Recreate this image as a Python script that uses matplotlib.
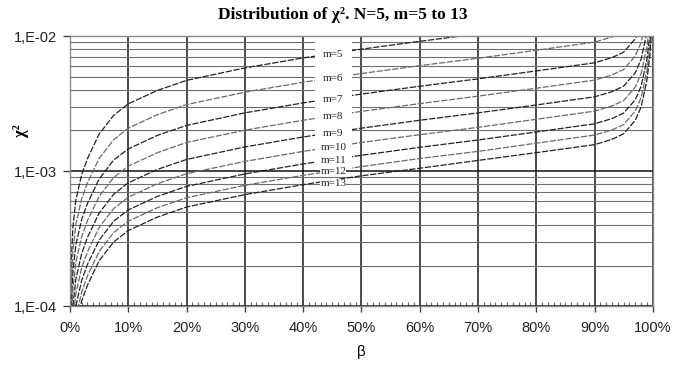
import matplotlib
matplotlib.use("Agg")
import matplotlib.pyplot as plt
import numpy as np
from matplotlib.ticker import MultipleLocator, FuncFormatter, LogLocator, NullFormatter
from matplotlib.patches import Rectangle

nan = np.nan

# beta in percent
beta = [0.05, 0.1, 0.2, 0.5, 1, 2, 3, 5, 7.5, 10, 15, 20, 30, 40, 50, 60, 70, 80,
        90, 93, 95, 97, 98, 99, 99.5, 99.8, 99.95]

m_values = [5, 6, 7, 8, 9, 10, 11, 12, 13]

chi2_m5 = [8.59e-5, 1.36e-4, 2.11e-4, 3.84e-4, 6.08e-4, 9.42e-4, 1.24e-3, 1.88e-3, 2.59e-3,
           3.15e-3, 3.96e-3, 4.70e-3, 5.81e-3, 6.89e-3, 8.00e-3, 9.14e-3, 1.04e-2,
           nan, nan, nan, nan, nan, nan, nan, nan, nan, nan]
chi2_m6 = [nan, 8.99e-5, 1.39e-4, 2.54e-4, 4.02e-4, 6.22e-4, 8.20e-4, 1.24e-3, 1.71e-3,
           2.08e-3, 2.62e-3, 3.11e-3, 3.84e-3, 4.55e-3, 5.28e-3, 6.04e-3, 6.85e-3, 7.85e-3,
           9.02e-3, 9.86e-3, 1.08e-2, nan, nan, nan, nan, nan, nan]
chi2_m7 = [nan, nan, 9.79e-5, 1.78e-4, 2.83e-4, 4.38e-4, 5.77e-4, 8.73e-4, 1.21e-3,
           1.46e-3, 1.84e-3, 2.18e-3, 2.70e-3, 3.20e-3, 3.72e-3, 4.25e-3, 4.82e-3, 5.52e-3,
           6.34e-3, 6.93e-3, 7.60e-3, 9.57e-3, 1.21e-2, nan, nan, nan, nan]
chi2_m8 = [nan, nan, 7.30e-5, 1.33e-4, 2.10e-4, 3.26e-4, 4.30e-4, 6.50e-4, 8.97e-4,
           1.09e-3, 1.37e-3, 1.63e-3, 2.01e-3, 2.38e-3, 2.77e-3, 3.16e-3, 3.59e-3, 4.11e-3,
           4.72e-3, 5.16e-3, 5.66e-3, 7.13e-3, 8.97e-3, 1.42e-2, nan, nan, nan]
chi2_m9 = [nan, nan, nan, 9.98e-5, 1.58e-4, 2.45e-4, 3.23e-4, 4.89e-4, 6.75e-4,
           8.19e-4, 1.03e-3, 1.22e-3, 1.51e-3, 1.79e-3, 2.08e-3, 2.38e-3, 2.70e-3, 3.09e-3,
           3.55e-3, 3.88e-3, 4.26e-3, 5.36e-3, 6.75e-3, 1.07e-2, nan, nan, nan]
chi2_m10 = [nan, nan, nan, 7.82e-5, 1.24e-4, 1.92e-4, 2.53e-4, 3.83e-4, 5.28e-4,
            6.41e-4, 8.07e-4, 9.57e-4, 1.18e-3, 1.40e-3, 1.63e-3, 1.86e-3, 2.11e-3, 2.42e-3,
            2.78e-3, 3.04e-3, 3.33e-3, 4.20e-3, 5.28e-3, 8.38e-3, 1.27e-2, nan, nan]
chi2_m11 = [nan, nan, nan, nan, 9.98e-5, 1.55e-4, 2.04e-4, 3.08e-4, 4.26e-4,
            5.16e-4, 6.50e-4, 7.71e-4, 9.53e-4, 1.13e-3, 1.31e-3, 1.50e-3, 1.70e-3, 1.95e-3,
            2.24e-3, 2.45e-3, 2.69e-3, 3.38e-3, 4.26e-3, 6.75e-3, 1.02e-2, nan, nan]
chi2_m12 = [nan, nan, nan, nan, 8.22e-5, 1.27e-4, 1.68e-4, 2.54e-4, 3.51e-4,
            4.26e-4, 5.36e-4, 6.35e-4, 7.85e-4, 9.31e-4, 1.08e-3, 1.24e-3, 1.40e-3, 1.61e-3,
            1.85e-3, 2.02e-3, 2.21e-3, 2.79e-3, 3.51e-3, 5.56e-3, 8.41e-3, 1.33e-2, nan]
chi2_m13 = [nan, nan, nan, nan, 7.02e-5, 1.09e-4, 1.43e-4, 2.17e-4, 2.99e-4,
            3.63e-4, 4.57e-4, 5.42e-4, 6.70e-4, 7.94e-4, 9.23e-4, 1.05e-3, 1.20e-3, 1.37e-3,
            1.57e-3, 1.72e-3, 1.89e-3, 2.38e-3, 2.99e-3, 4.74e-3, 7.18e-3, 1.14e-2, nan]

curves = [chi2_m5, chi2_m6, chi2_m7, chi2_m8, chi2_m9, chi2_m10, chi2_m11, chi2_m12, chi2_m13]

y_ticks = [1e-4, 1e-3, 1e-2]
y_ticklabels = ["1,E-04", "1,E-03", "1,E-02"]

fig = plt.figure(figsize=(6.73, 3.72), dpi=100)
ax = fig.add_axes([0.104, 0.177, 0.866, 0.726])

for m, vals in zip(m_values, curves):
    col = "#222222" if m % 2 == 1 else "#6a6a6a"
    ax.plot(beta, vals, color=col, lw=0.9, linestyle=(0, (5, 1.3)), zorder=2)

ax.set_yscale("log")
ax.set_xlim(0, 100)
ax.set_ylim(1e-4, 1e-2)

# gridlines
ax.set_axisbelow(True)
ax.xaxis.set_major_locator(MultipleLocator(10))
ax.xaxis.set_minor_locator(MultipleLocator(1))
ax.xaxis.set_major_formatter(FuncFormatter(lambda v, p: f"{v:.0f}%"))
ax.grid(which="major", axis="x", color="#1a1a1a", lw=1.1)
ax.set_yticks(y_ticks, y_ticklabels)
ax.yaxis.set_minor_locator(LogLocator(base=10, subs=np.arange(2, 10)))
ax.yaxis.set_minor_formatter(NullFormatter())
ax.grid(which="major", axis="y", color="#111111", lw=1.1)
ax.grid(which="minor", axis="y", color="#707070", lw=0.8)

for sp in ax.spines.values():
    sp.set_color("#8a8a8a")
    sp.set_linewidth(1.0)

ax.tick_params(axis="x", which="major", direction="out", length=4, width=1,
               color="#444444", pad=7, labelsize=10.5)
ax.tick_params(axis="x", which="minor", direction="in", length=3, width=0.8,
               color="#666666")
ax.tick_params(axis="y", which="major", direction="out", length=5, width=1,
               color="#444444", pad=4, labelsize=10.5)
ax.tick_params(axis="y", which="minor", length=0)
for lab in ax.get_xticklabels() + ax.get_yticklabels():
    lab.set_fontfamily("Liberation Sans")
    lab.set_color("#222222")

# white column behind curve labels
ax.add_patch(Rectangle((42, 1.02e-3), 6.4, 9.6e-3 - 1.02e-3, facecolor="white",
                       edgecolor="none", zorder=3))
for m, vals in zip(m_values, curves):
    logv = np.log10(np.array(vals, dtype=float))
    yl = 10 ** np.interp(44.0, beta, logv)
    dy = -1.5 if m == 13 else 0
    ax.annotate(f"m={m}", (45.2, yl), xytext=(0, dy), textcoords="offset points",
                ha="center", va="center", fontsize=8,
                family="Liberation Serif", color="#222222", zorder=4,
                bbox=dict(facecolor="white", edgecolor="none", pad=0.0))

ax.set_xlabel("β", fontsize=11, family="Liberation Sans", labelpad=7)
ax.set_ylabel("χ²", fontsize=12, family="Liberation Serif", fontweight="bold")
ax.yaxis.set_label_coords(-0.07, 0.65)

fig.suptitle("Distribution of χ². N=5, m=5 to 13", x=0.509, y=0.982,
             fontsize=12.5, fontweight="bold", family="Liberation Serif")

fig.savefig("out.png", dpi=100)
